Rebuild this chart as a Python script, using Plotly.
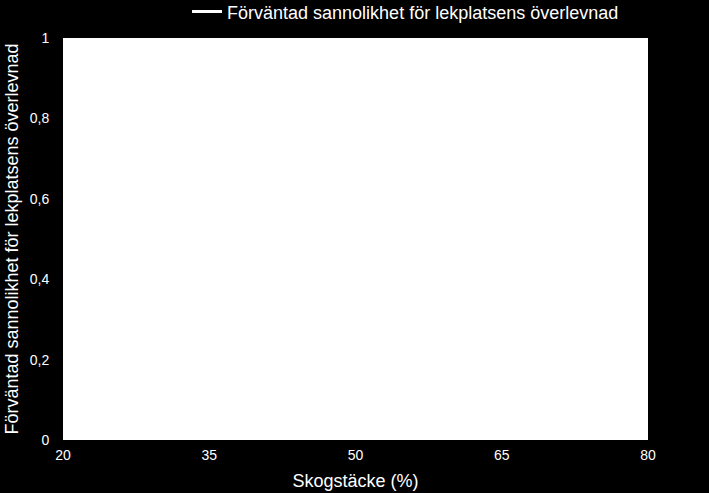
import plotly.graph_objects as go

# ── Palette ───────────────────────────────────────────────────────────────────
BG    = "#000000"
PLOT  = "#ffffff"
TXT   = "#ffffff"
FONT  = "Arial, Liberation Sans, sans-serif"

# ── Data (curve is drawn in white on the white plot area) ─────────────────────
forest_cover = [20, 26, 32, 38, 44, 50, 56, 62, 68, 74, 80]
p_survival   = [0.05, 0.09, 0.16, 0.27, 0.42, 0.58, 0.72, 0.83, 0.90, 0.94, 0.97]

X_TICKS = [20, 35, 50, 65, 80]
Y_TICKS = [0, 0.2, 0.4, 0.6, 0.8, 1]

SERIES_NAME = "Förväntad sannolikhet för lekplatsens överlevnad"

fig = go.Figure(
    go.Scatter(
        x=forest_cover,
        y=p_survival,
        mode="lines",
        name=SERIES_NAME,
        line=dict(color="#ffffff", width=3),
        showlegend=True,
    )
)

fig.update_layout(
    width=709,
    height=493,
    paper_bgcolor=BG,
    plot_bgcolor=PLOT,
    separators=", ",
    font=dict(family=FONT, color=TXT, size=14),
    margin=dict(l=63, r=61, t=38, b=53, autoexpand=False),
    showlegend=True,
    legend=dict(
        orientation="h",
        x=0.212, xanchor="left",
        y=1.065, yanchor="middle",
        font=dict(size=18, color=TXT),
        bgcolor="rgba(0,0,0,0)",
        itemwidth=30,
    ),
    xaxis=dict(
        range=[20, 80],
        tickvals=X_TICKS,
        showgrid=False,
        zeroline=False,
        showline=False,
        automargin=False,
        ticks="outside",
        ticklen=2,
        tickcolor=BG,
        tickfont=dict(size=14, color=TXT),
        title=dict(text="Skogstäcke (%)", font=dict(size=18, color=TXT), standoff=12),
    ),
    yaxis=dict(
        range=[0, 1],
        tickvals=Y_TICKS,
        showgrid=False,
        zeroline=False,
        showline=False,
        automargin=False,
        ticks="outside",
        ticklen=10,
        tickcolor=BG,
        tickfont=dict(size=14, color=TXT),
        title=dict(text=SERIES_NAME, font=dict(size=18, color=TXT), standoff=6),
    ),
)

# page default body margin would shift the figure; remove it
fig.write_html(
    "out.html",
    config={"displayModeBar": False},
    post_script="document.body.style.margin='0';document.body.style.background='#000';",
)
